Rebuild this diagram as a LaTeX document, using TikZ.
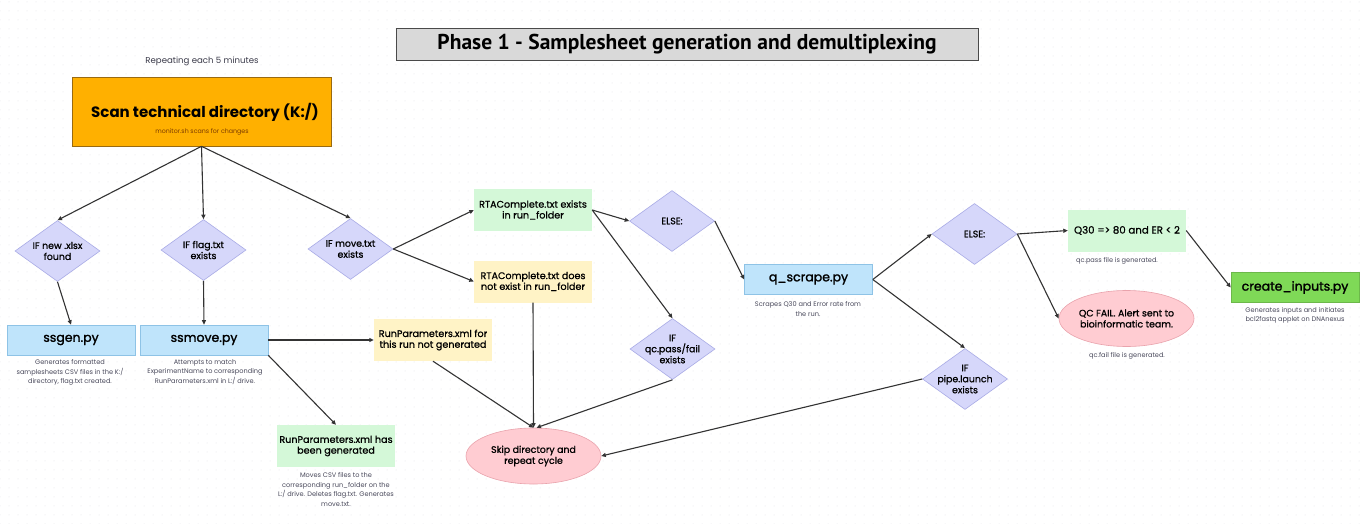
\documentclass[tikz,border=0pt]{standalone}
\usepackage{fontspec}
\setmainfont{Poppins}
\newfontfamily\medfont{Poppins}[FakeBold=0.9]
\newfontfamily\semifont{Poppins}[FakeBold=1.6]
\newfontfamily\titlefont{PT Sans}
\usetikzlibrary{shapes.geometric,arrows.meta,patterns.meta}
\definecolor{dotc}{HTML}{E4E4E8}
\definecolor{titleF}{HTML}{D9D9D9}
\definecolor{titleB}{HTML}{4A4A4A}
\definecolor{orangeF}{HTML}{FFB000}
\definecolor{orangeB}{HTML}{9A6A10}
\definecolor{diaF}{HTML}{D6D7FA}
\definecolor{diaB}{HTML}{A9ABE6}
\definecolor{blueF}{HTML}{BFE4FB}
\definecolor{blueB}{HTML}{8EC3E6}
\definecolor{yelF}{HTML}{FFF3C6}
\definecolor{grnF}{HTML}{D4F8D8}
\definecolor{pinkF}{HTML}{FFCCD2}
\definecolor{pinkB}{HTML}{E9A3AC}
\definecolor{ciF}{HTML}{7FD957}
\definecolor{arrC}{HTML}{333333}
\definecolor{descC}{HTML}{4A4A5C}
\definecolor{subC}{HTML}{7A3A00}
\begin{document}
\begin{tikzpicture}[x=1pt,y=-1pt,
  arr/.style={draw=arrC, line width=1.1pt, -{Triangle[length=4.5pt,width=4pt]}},
  boxbase/.style={rectangle, inner sep=0pt, align=center, font=\medfont\fontsize{9.6}{10.8}\selectfont},
  bluebox/.style={boxbase, fill=blueF, draw=blueB, line width=0.6pt, minimum width=128, minimum height=30, font=\semifont\fontsize{12.5}{14}\selectfont},
  yelbox/.style={boxbase, fill=yelF, minimum width=118, minimum height=42},
  grnbox/.style={boxbase, fill=grnF, minimum width=118, minimum height=42},
  dia/.style={diamond, draw=diaB, fill=diaF, line width=0.6pt, inner sep=0pt, minimum width=85, minimum height=61},
  dtext/.style={align=center, font=\medfont\fontsize{9.4}{11}\selectfont, inner sep=0pt},
  ell/.style={ellipse, draw=pinkB, fill=pinkF, line width=0.6pt, inner sep=0pt, minimum width=135, minimum height=56},
  desc/.style={align=center, text=descC, inner sep=0pt, font=\fontsize{6.6}{9.6}\selectfont}
]
\useasboundingbox (0,0) rectangle (1367,524);
\fill[white] (0,0) rectangle (1367,524);
\fill[pattern={Dots[distance=9pt, radius=0.5pt]}, pattern color=dotc] (0,0) rectangle (1367,524);

% title
\node[rectangle, fill=titleF, draw=titleB, line width=0.8pt, minimum width=582, minimum height=32, inner sep=0pt, font=\titlefont\fontsize{21.5}{23}\selectfont\bfseries] (title) at (687,44) {Phase 1 - Samplesheet generation and demultiplexing};

\node[inner sep=0pt, text=descC!80!black, font=\fontsize{8.6}{10}\selectfont] (rep) at (202,61) {Repeating each 5 minutes};

% scan box
\node[rectangle, fill=orangeF, draw=orangeB, line width=0.6pt, minimum width=259, minimum height=69, inner sep=0pt] (scan) at (201.5,111.5) {};
\node[inner sep=0pt, font=\fontsize{15}{17}\selectfont\bfseries] (scant) at (205,112) {Scan technical directory (K:/)};
\node[inner sep=0pt, text=subC, font=\fontsize{6.3}{8}\selectfont] (scans) at (202,132) {monitor.sh scans for changes};

% diamonds row
\node[dia, label={[dtext]center:{IF new .xlsx\\found}}] (d1) at (57.5,251) {};
\node[dia, label={[dtext]center:{IF flag.txt\\exists}}] (d2) at (203.5,250) {};
\node[dia, label={[dtext]center:{IF move.txt\\exists}}] (d3) at (350.5,249) {};

% scripts
\node[bluebox] (ssgen) at (71,340) {ssgen.py};
\node[bluebox] (ssmove) at (204,340) {ssmove.py};
\node[desc] (ssgend) at (70,372.5) {Generates formatted\\samplesheets CSV files in the K:/\\directory, flag.txt created.};
\node[desc] (ssmoved) at (205,372) {Attempts to match\\ExperimentName to corresponding\\RunParameters.xml in L:/ drive.};

\node[yelbox] (rpN) at (433,340) {RunParameters.xml for\\this run not generated};
\node[grnbox] (rpG) at (336,446) {RunParameters.xml has\\been generated};
\node[desc] (rpGd) at (336,489.5) {Moves CSV files to the\\corresponding run\_folder on the\\L:/ drive. Deletes flag.txt. Generates\\move.txt.};

\node[grnbox] (rtaE) at (533,210) {RTAComplete.txt exists\\in run\_folder};
\node[yelbox] (rtaN) at (533,281.5) {RTAComplete.txt does\\not exist in run\_folder};

\node[ell, label={[dtext]center:{Skip directory and\\repeat cycle}}] (skip) at (533.5,456) {};

\node[dia, label={[dtext]center:{ELSE:}}] (e1) at (672,221) {};
\node[dia, label={[dtext]center:{IF\\qc.pass/fail\\exists}}] (qc) at (672.5,349) {};

\node[bluebox] (qscr) at (808.5,279.5) {q\_scrape.py};
\node[desc] (qscrd) at (808,309) {Scrapes Q30 and Error rate from\\the run.};

\node[dia, label={[dtext]center:{ELSE:}}] (e2) at (974.5,234) {};
\node[dia, label={[dtext]center:{IF\\pipe.launch\\exists}}] (pipe) at (965,379) {};

\node[grnbox, font=\medfont\fontsize{10.2}{12}\selectfont] (q30) at (1127,230.5) {Q30 => 80 and ER < 2};
\node[desc] (q30d) at (1117,261) {qc.pass file is generated.};

\node[ell, label={[dtext]center:{QC FAIL. Alert sent to\\bioinformatic team.}}] (qcf) at (1126.5,318.5) {};
\node[desc] (qcfd) at (1127,356) {qc.fail file is generated.};

\node[bluebox, fill=ciF, draw=ciF!85!black] (ci) at (1295,287.5) {create\_inputs.py};
\node[desc] (cid) at (1295,315.5) {Generates inputs and initiates\\bcl2fastq applet on DNAnexus};

% connectors
\draw[arr] (scan.south) -- (d1.north);
\draw[arr] (scan.south) -- (d2.north);
\draw[arr] (scan.south) -- (d3.north);
\draw[arr] (d1.south) -- (ssgen.north);
\draw[arr] (d2.south) -- (ssmove.north);
\draw[arr] (d3.east) -- (rtaE.west);
\draw[arr] (d3.east) -- (rtaN.west);
\draw[arr] (ssmove.east) -- (rpN.west);
\draw[arr] (ssmove.south east) -- (rpG.north);
\draw[arr] (rpN.south) -- (skip.north);
\draw[arr] (rtaN.south) -- (skip.north);
\draw[arr] (qc.south) -- ([xshift=3pt]skip.north);
\draw[arr] (pipe.west) -- (skip.east);
\draw[arr] (rtaE.east) -- (e1.west);
\draw[arr] (rtaE.east) -- (qc.north);
\draw[arr] (e1.east) -- (qscr.west);
\draw[arr] (qscr.east) -- (e2.west);
\draw[arr] (qscr.east) -- (pipe.north);
\draw[arr] (e2.east) -- (q30.west);
\draw[arr] (e2.east) -- (qcf.west);
\draw[arr] (q30.east) -- (ci.west);
\end{tikzpicture}
\end{document}
